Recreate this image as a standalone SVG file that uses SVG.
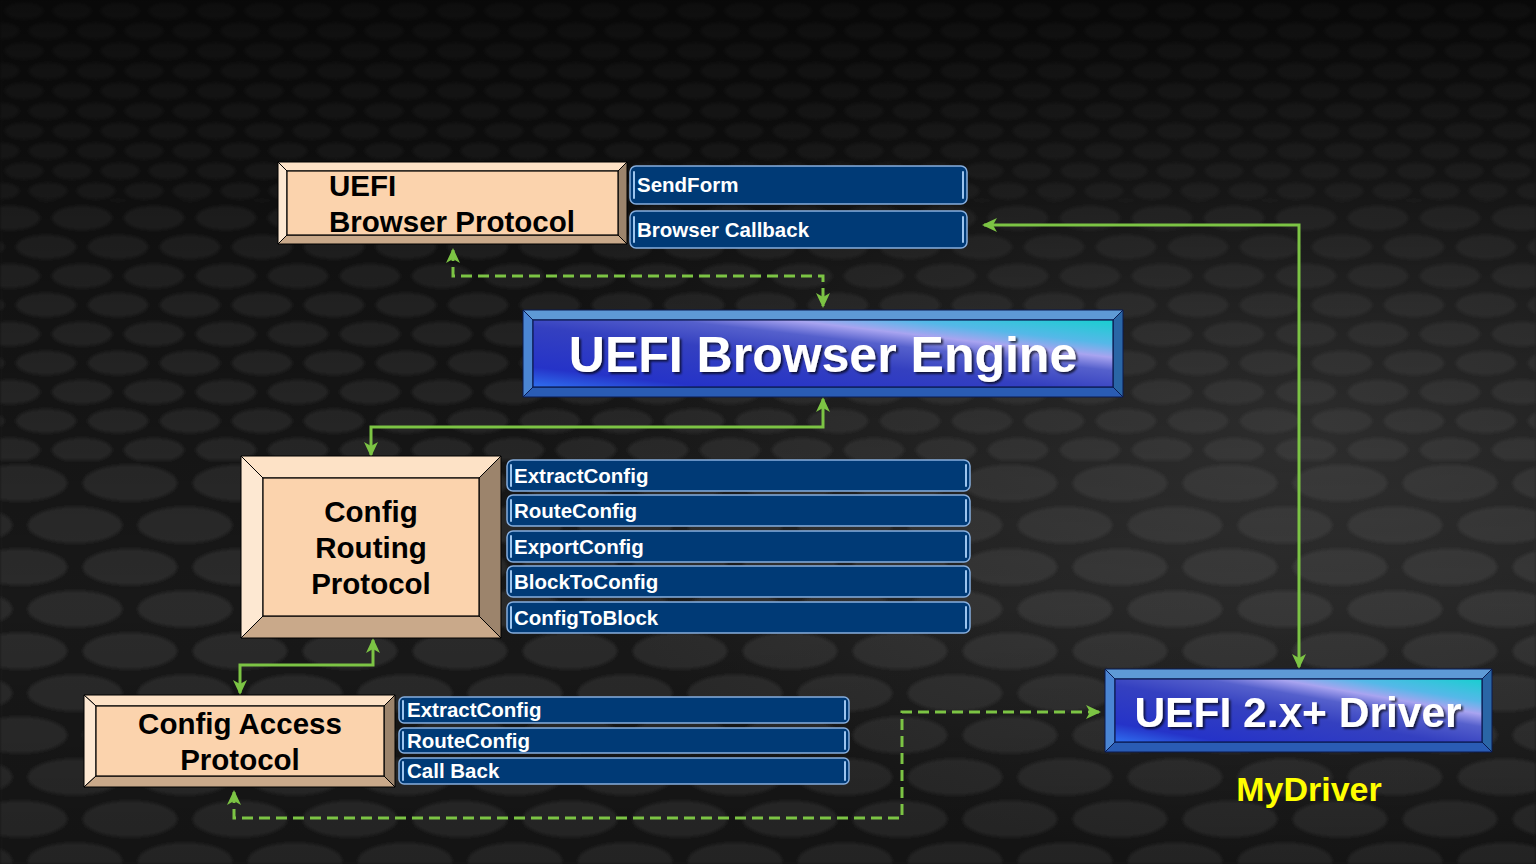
<svg xmlns="http://www.w3.org/2000/svg" width="1536" height="864" viewBox="0 0 1536 864">
<style>
.tb{fill:#fde2c6;stroke:#000;stroke-width:1}
.tl{fill:#fde8d2;stroke:#000;stroke-width:1}
.tr{fill:#9c846c;stroke:#000;stroke-width:1}
.tbt{fill:#c9a98a;stroke:#000;stroke-width:1}
.tf{fill:#fbd3ad;stroke:#000;stroke-width:1.2}
.ttxt{font-family:"Liberation Sans",Arial,sans-serif;font-weight:bold;fill:#000}
.bt{fill:#5e9ad6;stroke:#0a1a50;stroke-width:1}
.bl{fill:#4b86d4;stroke:#0a1a50;stroke-width:1}
.br{fill:#2a66a6;stroke:#0a1a50;stroke-width:1}
.bb{fill:#2a5cb4;stroke:#0a1a50;stroke-width:1}
.bf{fill:url(#blueFace);stroke:#0a1a50;stroke-width:1.2}
.btxt{font-family:"Liberation Sans",Arial,sans-serif;font-weight:bold;fill:#fff;text-anchor:middle;filter:url(#sh)}
.bar{fill:#003a76;stroke:#86aede;stroke-width:1.5}
.hl{stroke:#9cc4ee;stroke-width:2;stroke-linecap:round}
.bartxt{font-family:"Liberation Sans",Arial,sans-serif;font-weight:bold;fill:#fff;font-size:20.5px}
.con{fill:none;stroke:#7cc444;stroke-width:3}
.dash{stroke-dasharray:11 6}
</style>
<defs>
<linearGradient id="blueFace" x1="0" y1="1" x2="1" y2="0">
<stop offset="0" stop-color="#2f6ff0"/>
<stop offset="0.15" stop-color="#2533c8"/>
<stop offset="0.45" stop-color="#3440c0"/>
<stop offset="0.62" stop-color="#5560cc"/>
<stop offset="0.72" stop-color="#a8a4f0"/>
<stop offset="0.82" stop-color="#55b8e8"/>
<stop offset="1" stop-color="#18cfd0"/>
</linearGradient>
<linearGradient id="sky" x1="0" y1="0" x2="0" y2="1">
<stop offset="0" stop-color="#000" stop-opacity="0.7"/>
<stop offset="0.35" stop-color="#000" stop-opacity="0.35"/>
<stop offset="0.7" stop-color="#000" stop-opacity="0.15"/>
<stop offset="1" stop-color="#000" stop-opacity="0.3"/>
</linearGradient>
<radialGradient id="glow" cx="0.85" cy="0.5" r="0.5">
<stop offset="0" stop-color="#888" stop-opacity="0.3"/>
<stop offset="1" stop-color="#888" stop-opacity="0"/>
</radialGradient>
<pattern id="p1" width="48" height="40" patternUnits="userSpaceOnUse">
<rect width="48" height="40" fill="#1a1a1a"/>
<ellipse cx="24" cy="11" rx="19" ry="8" fill="#2e2e2e"/>
<ellipse cx="0" cy="31" rx="19" ry="8" fill="#2e2e2e"/>
<ellipse cx="48" cy="31" rx="19" ry="8" fill="#2e2e2e"/>
</pattern>
<pattern id="p2" width="72" height="58" patternUnits="userSpaceOnUse" patternTransform="translate(10,0)">
<rect width="72" height="58" fill="#1b1b1b"/>
<ellipse cx="36" cy="15" rx="30" ry="12" fill="#313131"/>
<ellipse cx="0" cy="44" rx="30" ry="12" fill="#313131"/>
<ellipse cx="72" cy="44" rx="30" ry="12" fill="#313131"/>
</pattern>
<pattern id="p3" width="110" height="84" patternUnits="userSpaceOnUse" patternTransform="translate(20,0)">
<rect width="110" height="84" fill="#1c1c1c"/>
<ellipse cx="55" cy="21" rx="47" ry="18" fill="#333"/>
<ellipse cx="0" cy="63" rx="47" ry="18" fill="#333"/>
<ellipse cx="110" cy="63" rx="47" ry="18" fill="#333"/>
</pattern>
<filter id="soft"><feGaussianBlur stdDeviation="1.5"/></filter>
<filter id="sh" x="-5%" y="-20%" width="110%" height="140%">
<feDropShadow dx="2" dy="2" stdDeviation="1.2" flood-color="#000" flood-opacity="0.7"/>
</filter>
<marker id="ah" viewBox="0 0 16 16" markerWidth="16" markerHeight="16" refX="13" refY="8" orient="auto-start-reverse" markerUnits="userSpaceOnUse">
<path d="M0,1 L15,8 L0,15 L4,8 z" fill="#7cc444"/>
</marker>
</defs>

<g id="background">
<rect width="1536" height="864" fill="#1b1b1b"/>
<g filter="url(#soft)">
<rect x="0" y="0" width="1536" height="200" fill="url(#p1)"/>
<rect x="0" y="200" width="1536" height="260" fill="url(#p2)"/>
<rect x="0" y="460" width="1536" height="404" fill="url(#p3)"/>
</g>
<rect width="1536" height="864" fill="url(#glow)"/>
<rect width="1536" height="864" fill="url(#sky)"/>
</g>

<g id="connectors">
<path class="con dash" d="M453,250 V276 H823 V306" marker-start="url(#ah)" marker-end="url(#ah)"/>
<path class="con" d="M823,399 V427 H371 V455" marker-start="url(#ah)" marker-end="url(#ah)"/>
<path class="con" d="M373,640 V665 H240 V693" marker-start="url(#ah)" marker-end="url(#ah)"/>
<path class="con" d="M984,225 H1299 V667" marker-start="url(#ah)" marker-end="url(#ah)"/>
<path class="con dash" d="M234,792 V818 H902 V712 H1099" stroke-dasharray="0 26 11 6 11 6" marker-start="url(#ah)" marker-end="url(#ah)"/>
</g>

<g id="browser-protocol">
<polygon class="tb" points="278,162 627,162 618,171 287,171"/>
<polygon class="tl" points="278,162 287,171 287,235 278,244"/>
<polygon class="tr" points="627,162 627,244 618,235 618,171"/>
<polygon class="tbt" points="278,244 287,235 618,235 627,244"/>
<rect class="tf" x="287" y="171" width="331" height="64"/>
<text class="ttxt" font-size="29.5" x="329" y="196">UEFI</text>
<text class="ttxt" font-size="29.5" x="329" y="232">Browser Protocol</text>
</g>

<g id="browser-protocol-functions">
<rect class="bar" x="630" y="166" width="337" height="38" rx="6"/>
<line class="hl" x1="634" y1="172" x2="634" y2="198"/><line class="hl" x1="963" y1="172" x2="963" y2="198"/>
<text class="bartxt" x="637" y="192">SendForm</text>
<rect class="bar" x="630" y="211" width="337" height="37" rx="6"/>
<line class="hl" x1="634" y1="217" x2="634" y2="242"/><line class="hl" x1="963" y1="217" x2="963" y2="242"/>
<text class="bartxt" x="637" y="237">Browser Callback</text>
</g>

<g id="browser-engine">
<polygon class="bt" points="523,310 1123,310 1113,320 533,320"/>
<polygon class="bl" points="523,310 533,320 533,387 523,397"/>
<polygon class="br" points="1123,310 1123,397 1113,387 1113,320"/>
<polygon class="bb" points="523,397 533,387 1113,387 1123,397"/>
<rect class="bf" x="533" y="320" width="580" height="67"/>
<text class="btxt" font-size="50" x="823" y="372">UEFI Browser Engine</text>
</g>

<g id="config-routing">
<polygon class="tb" points="241,456 501,456 479,478 263,478"/>
<polygon class="tl" points="241,456 263,478 263,616 241,638"/>
<polygon class="tr" points="501,456 501,638 479,616 479,478"/>
<polygon class="tbt" points="241,638 263,616 479,616 501,638"/>
<rect class="tf" x="263" y="478" width="216" height="138"/>
<text class="ttxt" font-size="29.5" text-anchor="middle" x="371" y="522">Config</text>
<text class="ttxt" font-size="29.5" text-anchor="middle" x="371" y="558">Routing</text>
<text class="ttxt" font-size="29.5" text-anchor="middle" x="371" y="594">Protocol</text>
</g>

<g id="config-routing-functions">
<rect class="bar" x="507" y="460" width="463" height="31" rx="6"/>
<line class="hl" x1="511" y1="465" x2="511" y2="486"/><line class="hl" x1="966" y1="465" x2="966" y2="486"/>
<text class="bartxt" x="514" y="483">ExtractConfig</text>
<rect class="bar" x="507" y="495" width="463" height="31" rx="6"/>
<line class="hl" x1="511" y1="500" x2="511" y2="521"/><line class="hl" x1="966" y1="500" x2="966" y2="521"/>
<text class="bartxt" x="514" y="518">RouteConfig</text>
<rect class="bar" x="507" y="531" width="463" height="31" rx="6"/>
<line class="hl" x1="511" y1="536" x2="511" y2="557"/><line class="hl" x1="966" y1="536" x2="966" y2="557"/>
<text class="bartxt" x="514" y="554">ExportConfig</text>
<rect class="bar" x="507" y="566" width="463" height="31" rx="6"/>
<line class="hl" x1="511" y1="571" x2="511" y2="592"/><line class="hl" x1="966" y1="571" x2="966" y2="592"/>
<text class="bartxt" x="514" y="589">BlockToConfig</text>
<rect class="bar" x="507" y="602" width="463" height="31" rx="6"/>
<line class="hl" x1="511" y1="607" x2="511" y2="628"/><line class="hl" x1="966" y1="607" x2="966" y2="628"/>
<text class="bartxt" x="514" y="625">ConfigToBlock</text>
</g>

<g id="config-access">
<polygon class="tb" points="84,695 395,695 384,706 96,706"/>
<polygon class="tl" points="84,695 96,706 96,776 84,787"/>
<polygon class="tr" points="395,695 395,787 384,776 384,706"/>
<polygon class="tbt" points="84,787 96,776 384,776 395,787"/>
<rect class="tf" x="96" y="706" width="288" height="70"/>
<text class="ttxt" font-size="29.5" text-anchor="middle" x="240" y="734">Config Access</text>
<text class="ttxt" font-size="29.5" text-anchor="middle" x="240" y="770">Protocol</text>
</g>

<g id="config-access-functions">
<rect class="bar" x="399" y="697" width="450" height="26" rx="5"/>
<line class="hl" x1="403" y1="701" x2="403" y2="719"/><line class="hl" x1="845" y1="701" x2="845" y2="719"/>
<text class="bartxt" x="407" y="717">ExtractConfig</text>
<rect class="bar" x="399" y="728" width="450" height="25" rx="5"/>
<line class="hl" x1="403" y1="732" x2="403" y2="749"/><line class="hl" x1="845" y1="732" x2="845" y2="749"/>
<text class="bartxt" x="407" y="748">RouteConfig</text>
<rect class="bar" x="399" y="758" width="450" height="26" rx="5"/>
<line class="hl" x1="403" y1="762" x2="403" y2="780"/><line class="hl" x1="845" y1="762" x2="845" y2="780"/>
<text class="bartxt" x="407" y="778">Call Back</text>
</g>

<g id="uefi-driver">
<polygon class="bt" points="1105,669 1492,669 1482,679 1115,679"/>
<polygon class="bl" points="1105,669 1115,679 1115,742 1105,752"/>
<polygon class="br" points="1492,669 1492,752 1482,742 1482,679"/>
<polygon class="bb" points="1105,752 1115,742 1482,742 1492,752"/>
<rect class="bf" x="1115" y="679" width="367" height="63"/>
<text class="btxt" font-size="42.5" x="1298" y="727">UEFI 2.x+ Driver</text>
<text font-family="'Liberation Sans',Arial,sans-serif" font-weight="bold" font-size="34" fill="#ffff00" text-anchor="middle" x="1309" y="801">MyDriver</text>
</g>
</svg>
